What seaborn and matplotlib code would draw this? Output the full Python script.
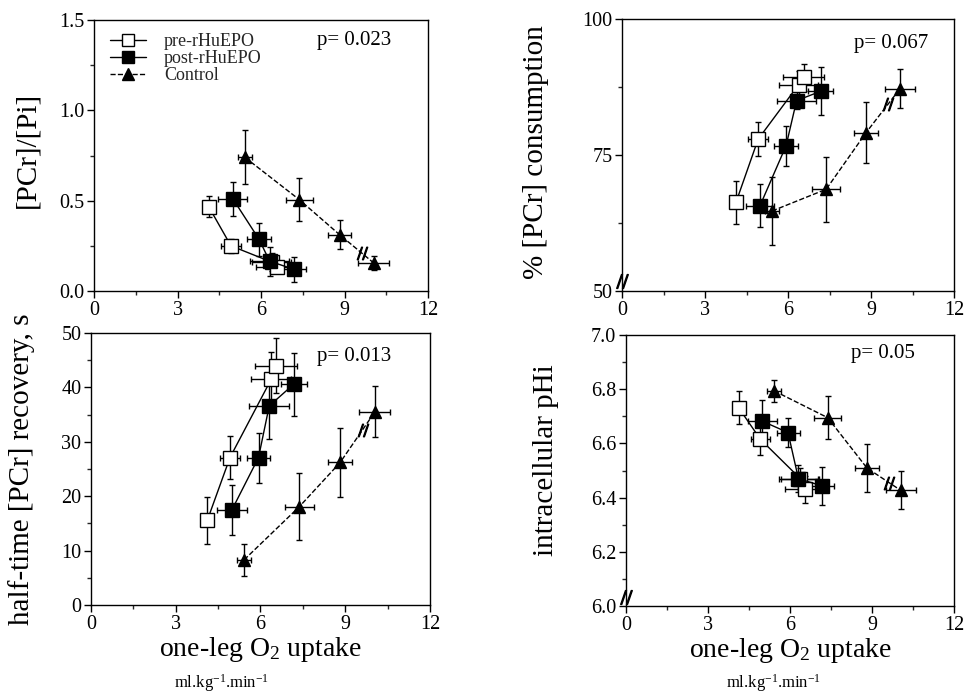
import matplotlib
matplotlib.use("Agg")
import matplotlib.pyplot as plt
import numpy as np
import pandas as pd
import seaborn as sns
from matplotlib.lines import Line2D
from matplotlib.ticker import MultipleLocator

sns.set_theme(style="ticks")
plt.rcParams["font.family"] = ["Liberation Serif", "DejaVu Serif"]
plt.rcParams["mathtext.fontset"] = "custom"
plt.rcParams["mathtext.rm"] = "Liberation Serif"
plt.rcParams["mathtext.it"] = "Liberation Serif:italic"

# one-leg O2 uptake (ml.kg-1.min-1) per stage, with SE
groups = ["pre-rHuEPO", "post-rHuEPO", "Control"]
vo2_pre = [4.12, 4.92, 6.38, 6.56]
vo2_post = [4.99, 5.93, 6.31, 7.18]
vo2_ctrl = [5.42, 7.38, 8.82, 10.05]
vo2_err_pre = [0.2, 0.35, 0.7, 0.75]
vo2_err_post = [0.52, 0.42, 0.7, 0.45]
vo2_err_ctrl = [0.25, 0.5, 0.43, 0.55]

# [PCr]/[Pi]
ratio_pre = [0.467, 0.25, 0.16, 0.135]
ratio_post = [0.51, 0.286, 0.165, 0.12]
ratio_ctrl = [0.74, 0.505, 0.312, 0.155]
ratio_err_pre = [0.06, 0.04, 0.05, 0.03]
ratio_err_post = [0.095, 0.09, 0.08, 0.07]
ratio_err_ctrl = [0.15, 0.12, 0.08, 0.04]

# % [PCr] consumption
cons_pre = [66.3, 77.9, 87.9, 89.3]
cons_post = [65.7, 76.7, 85.0, 86.7]
cons_ctrl = [64.7, 68.7, 79.1, 87.2]
cons_err_pre = [4.0, 3.1, 2.5, 2.5]
cons_err_post = [4.0, 3.7, 1.5, 4.4]
cons_err_ctrl = [6.2, 6.0, 5.6, 3.6]

# half-time [PCr] recovery, s
half_pre = [15.6, 27.1, 41.5, 44.0]
half_post = [17.5, 27.1, 36.6, 40.6]
half_ctrl = [8.3, 18.1, 26.2, 35.5]
half_err_pre = [4.3, 4.0, 5.0, 5.0]
half_err_post = [4.6, 4.6, 6.0, 5.8]
half_err_ctrl = [2.9, 6.2, 6.3, 4.7]

# intracellular pHi
ph_pre = [6.732, 6.615, 6.47, 6.43]
ph_post = [6.682, 6.64, 6.47, 6.443]
ph_ctrl = [6.794, 6.695, 6.509, 6.427]
ph_err_pre = [0.06, 0.057, 0.04, 0.05]
ph_err_post = [0.08, 0.055, 0.05, 0.07]
ph_err_ctrl = [0.04, 0.08, 0.09, 0.07]

p_values = ["p= 0.023", "p= 0.067", "p= 0.013", "p= 0.05"]

vo2 = {"pre-rHuEPO": (vo2_pre, vo2_err_pre),
       "post-rHuEPO": (vo2_post, vo2_err_post),
       "Control": (vo2_ctrl, vo2_err_ctrl)}

panels = [
    {"ylabel": "[PCr]/[Pi]", "ylim": (0, 1.5), "major": 0.5, "minor": 0.25, "fmt": "{:.1f}",
     "y": {"pre-rHuEPO": (ratio_pre, ratio_err_pre), "post-rHuEPO": (ratio_post, ratio_err_post),
           "Control": (ratio_ctrl, ratio_err_ctrl)},
     "rect": [0.0973, 0.5843, 0.3458, 0.3871], "ylab_pos": (-0.2, 0.52), "p_pos": (0.78, 0.926),
     "break": False, "xlabel": False},
    {"ylabel": "% [PCr] consumption", "ylim": (50, 100), "major": 25, "minor": 12.5, "fmt": "{:.0f}",
     "y": {"pre-rHuEPO": (cons_pre, cons_err_pre), "post-rHuEPO": (cons_post, cons_err_post),
           "Control": (cons_ctrl, cons_err_ctrl)},
     "rect": [0.6439, 0.5843, 0.3437, 0.3886], "ylab_pos": (-0.26, 0.51), "p_pos": (0.81, 0.908),
     "break": True, "xlabel": False},
    {"ylabel": "half-time [PCr] recovery, s", "ylim": (0, 50), "major": 10, "minor": 5, "fmt": "{:.0f}",
     "y": {"pre-rHuEPO": (half_pre, half_err_pre), "post-rHuEPO": (half_post, half_err_post),
           "Control": (half_ctrl, half_err_ctrl)},
     "rect": [0.0942, 0.1357, 0.3509, 0.3886], "ylab_pos": (-0.205, 0.5), "p_pos": (0.776, 0.915),
     "break": False, "xlabel": True, "unit_pos": (0.386, -0.287)},
    {"ylabel": "intracellular pHi", "ylim": (6.0, 7.0), "major": 0.2, "minor": 0.1, "fmt": "{:.1f}",
     "y": {"pre-rHuEPO": (ph_pre, ph_err_pre), "post-rHuEPO": (ph_post, ph_err_post),
           "Control": (ph_ctrl, ph_err_ctrl)},
     "rect": [0.648, 0.1343, 0.3395, 0.3871], "ylab_pos": (-0.244, 0.54), "p_pos": (0.783, 0.93),
     "break": True, "xlabel": True, "unit_pos": (0.45, -0.284)},
]

styles = {
    "pre-rHuEPO": dict(marker="s", markerfacecolor="white", linestyle="-", markersize=10),
    "post-rHuEPO": dict(marker="s", markerfacecolor="black", linestyle="-", markersize=10),
    "Control": dict(marker="^", markerfacecolor="black", linestyle="--", markersize=9),
}

fig = plt.figure(figsize=(9.66, 7.0), dpi=100)

for i, panel in enumerate(panels):
    ax = fig.add_axes(panel["rect"])
    for g in groups:
        x, xerr = vo2[g]
        y, yerr = panel["y"][g]
        df = pd.DataFrame({"x": x, "y": y})
        ax.errorbar(x, y, xerr=xerr, yerr=yerr, fmt="none", ecolor="black",
                    elinewidth=1.0, capsize=2.5, capthick=1.0, zorder=2)
        st = styles[g]
        sns.lineplot(data=df, x="x", y="y", ax=ax, sort=False, estimator=None, color="black",
                     linewidth=1.0, marker=st["marker"], markersize=st["markersize"],
                     markerfacecolor=st["markerfacecolor"], markeredgecolor="black",
                     markeredgewidth=1.0, linestyle=st["linestyle"], zorder=3)
        if g == "Control":
            # break mark on the control line between last two stages
            bx = x[2] + 0.65 * (x[3] - x[2])
            by = y[2] + 0.65 * (y[3] - y[2])
            ax.plot([bx], [by], marker="$//$", color="black", markersize=9, zorder=4)

    ax.set_xlim(0, 12)
    ax.set_ylim(*panel["ylim"])
    ax.xaxis.set_major_locator(MultipleLocator(3))
    ax.xaxis.set_minor_locator(MultipleLocator(1.5))
    ax.yaxis.set_major_locator(MultipleLocator(panel["major"]))
    ax.yaxis.set_minor_locator(MultipleLocator(panel["minor"]))
    lo, hi = panel["ylim"]
    yt = np.arange(lo, hi + 1e-9, panel["major"])
    ax.set_yticks(yt)
    ax.set_yticklabels([panel["fmt"].format(v) for v in yt])
    ax.tick_params(axis="both", which="major", direction="out", length=5, width=1,
                   labelsize=14.5, colors="black", pad=2)
    ax.tick_params(axis="both", which="minor", direction="out", length=3, width=1)
    for sp in ax.spines.values():
        sp.set_color("black")
        sp.set_linewidth(1.0)

    ax.set_xlabel("")
    ax.set_ylabel(panel["ylabel"], fontsize=21, color="black")
    ax.yaxis.set_label_coords(*panel["ylab_pos"])
    ax.yaxis.label.set_va("center")

    ax.text(*panel["p_pos"], p_values[i], transform=ax.transAxes, ha="center", va="center",
            fontsize=15, color="black")

    if panel["break"]:
        ax.plot([0], [0.035], marker="$//$", color="black", markersize=10,
                transform=ax.transAxes, clip_on=False, zorder=5)

    if panel["xlabel"]:
        ax.set_xlabel(r"one-leg O$_{\mathrm{2}}$ uptake", fontsize=20, color="black")
        ax.xaxis.set_label_coords(0.5, -0.165)
        ax.xaxis.label.set_va("center")
        ax.text(*panel["unit_pos"], r"ml.kg$^{\mathrm{-1}}$.min$^{\mathrm{-1}}$",
                transform=ax.transAxes, ha="center", va="center", fontsize=12, color="black")

    if i == 0:
        handles = [Line2D([0], [0], color="black", linewidth=1.0, linestyle=styles[g]["linestyle"],
                          marker=styles[g]["marker"], markersize=styles[g]["markersize"] - 1,
                          markerfacecolor=styles[g]["markerfacecolor"], markeredgecolor="black")
                   for g in groups]
        ax.legend(handles, groups, loc="upper left", bbox_to_anchor=(0.02, 0.985), frameon=False,
                  fontsize=13, labelspacing=0.0, handlelength=2.0, handletextpad=1.0,
                  borderaxespad=0.1)

fig.savefig("out.png", dpi=100)
